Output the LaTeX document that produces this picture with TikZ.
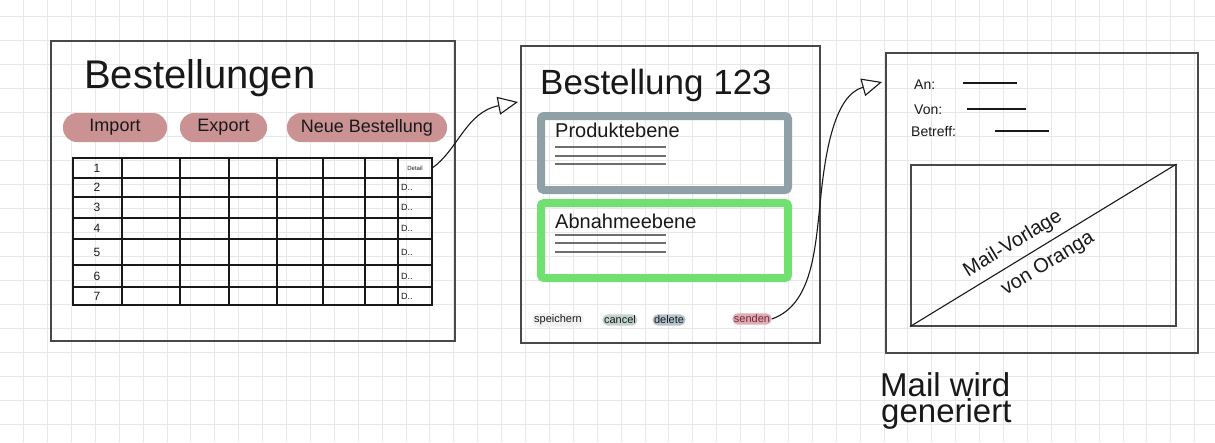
\documentclass[tikz,border=0pt]{standalone}
\usepackage{fontspec}
\setmainfont{Liberation Sans}
\usetikzlibrary{arrows.meta,calc}
\definecolor{gridc}{RGB}{232,232,232}
\definecolor{ink}{RGB}{72,72,72}
\definecolor{pen}{RGB}{25,25,25}
\definecolor{rose}{RGB}{203,146,148}
\definecolor{roseink}{RGB}{120,40,55}
\definecolor{roselight}{RGB}{222,172,180}
\definecolor{grayb}{RGB}{143,160,166}
\definecolor{greenb}{RGB}{112,224,112}
\definecolor{cancelc}{RGB}{196,212,204}
\definecolor{deletec}{RGB}{182,196,206}
\definecolor{lineg}{RGB}{110,110,110}
\tikzset{
  screen/.style={draw=ink, line width=1.6pt, anchor=north west, inner sep=0pt},
  btn/.style={fill=rose, rounded corners=14pt, minimum height=29pt, inner sep=0pt, text=pen, font=\fontsize{18}{20}\selectfont},
  tabline/.style={draw=pen, line width=1.2pt},
  rowlab/.style={text=pen, font=\fontsize{12}{13}\selectfont, inner sep=0pt},
  dcell/.style={text=pen, font=\fontsize{9}{10}\selectfont, inner sep=0pt, anchor=west},
  level/.style={line width=8pt, rounded corners=3pt, anchor=north west, inner sep=0pt},
  textline/.style={draw=lineg, line width=1.3pt},
  smallbtn/.style={rounded corners=5pt, inner sep=1.5pt, text=pen, font=\fontsize{11}{12}\selectfont},
  conn/.style={draw=pen, line width=1.1pt, -{Triangle[open, length=20pt, width=18pt, line width=1.1pt]}},
  hand/.style={text=pen, inner sep=0pt, anchor=base west},
  mailfield/.style={text=pen, inner sep=0pt, anchor=base west, font=\fontsize{14}{15}\selectfont},
  diagtext/.style={text=pen, rotate=31.3, inner sep=0pt, font=\fontsize{20}{22}\selectfont},
}
\begin{document}
\begin{tikzpicture}[x=1pt,y=-1pt]
\useasboundingbox (0,0) rectangle (1215,442);
\fill[white] (0,0) rectangle (1215,442);
% grid paper
\foreach \i in {-1,...,50} \draw[gridc, line width=0.8pt] ({23.5+23.9*\i},0) -- ({23.5+23.9*\i},442);
\foreach \j in {0,...,18} \draw[gridc, line width=0.8pt] (0,{16+24*\j}) -- (1215,{16+24*\j});

% ---------- screen 1 ----------
\node[screen, minimum width=404pt, minimum height=300pt] (box1) at (50,40) {};
\node[hand, font=\fontsize{40}{44}\selectfont] (t1) at (84,88) {Bestellungen};
\node[btn, minimum width=104pt] (imp) at (115,127.5) {Import};
\node[btn, minimum width=87pt] (exp) at (223.5,127.5) {Export};
\node[btn, minimum width=160pt] (neu) at (367,127.5) {Neue Bestellung};
% table
\draw[tabline] (73,158) rectangle (432,305);
\foreach \x in {122,180,229,277,323,365,398} \draw[tabline] (\x,158) -- (\x,305);
\foreach \y in {178,197,218,239,265,287} \draw[tabline] (73,\y) -- (432,\y);
\node[rowlab] (r1) at (97,168) {1};
\node[rowlab] (r2) at (97,187.5) {2};
\node[rowlab] (r3) at (97,207.5) {3};
\node[rowlab] (r4) at (97,228.5) {4};
\node[rowlab] (r5) at (97,252) {5};
\node[rowlab] (r6) at (97,276) {6};
\node[rowlab] (r7) at (97,296) {7};
\node[inner sep=0pt, minimum width=34pt, minimum height=20pt, font=\fontsize{6}{7}\selectfont, text=pen] (det) at (415,168) {Detail};
\node[dcell] (d2) at (401,187.5) {D..};
\node[dcell] (d3) at (401,207.5) {D..};
\node[dcell] (d4) at (401,228.5) {D..};
\node[dcell] (d5) at (401,252) {D..};
\node[dcell] (d6) at (401,276) {D..};
\node[dcell] (d7) at (401,296) {D..};

% ---------- screen 2 ----------
\node[screen, minimum width=299pt, minimum height=297pt] (box2) at (520,45) {};
\coordinate (in2) at (518,102);
\node[hand, font=\fontsize{35}{38}\selectfont] (t2) at (540,94) {Bestellung 123};
\node[level, draw=grayb, minimum width=247pt, minimum height=74pt] (prod) at (537,112) {};
\node[hand, font=\fontsize{20}{22}\selectfont] (prodt) at (555,137) {Produktebene};
\draw[textline] (555,147) -- (666,147);
\draw[textline] (555,156) -- (666,156);
\draw[textline] (555,164) -- (666,164);
\node[level, draw=greenb, minimum width=247pt, minimum height=75pt] (abn) at (537,199) {};
\node[hand, font=\fontsize{20}{22}\selectfont] (abnt) at (555,228) {Abnahmeebene};
\draw[textline] (555,235) -- (666,235);
\draw[textline] (555,243) -- (666,243);
\draw[textline] (555,252) -- (666,252);
\node[smallbtn, fill=gridc!60] (spe) at (558,320) {speichern};
\node[smallbtn, fill=cancelc] (can) at (620,320) {cancel};
\node[smallbtn, fill=deletec] (del) at (669,320) {delete};
\node[smallbtn, fill=roselight, text=roseink] (sen) at (752,319) {senden};

% ---------- screen 3 ----------
\node[screen, minimum width=312pt, minimum height=300pt] (box3) at (885,52) {};
\coordinate (in3) at (882,82);
\node[mailfield] (an) at (914,89) {An:};
\node[mailfield] (von) at (914,114) {Von:};
\node[mailfield] (bet) at (911,136) {Betreff:};
\draw[pen, line width=1.2pt] (963,83) -- (1017,83);
\draw[pen, line width=1.2pt] (967,109) -- (1026,109);
\draw[pen, line width=1.2pt] (995,131) -- (1049,131);
\node[screen, minimum width=265pt, minimum height=161pt] (tmpl) at (910,164) {};
\draw[pen, line width=1.1pt] (tmpl.south west) -- (tmpl.north east);
\node[diagtext] (mv) at (1013,244) {Mail-Vorlage};
\node[diagtext] (vo) at (1048,264) {von Oranga};
\node[hand, font=\fontsize{33}{36}\selectfont] (mw1) at (880,396) {Mail wird};
\node[hand, font=\fontsize{33}{36}\selectfont] (mw2) at (881,422) {generiert};

% ---------- connectors ----------
\draw[conn] (det.east) .. controls (458,150) and (466,112) .. (in2);
\draw[conn] (sen.east) .. controls (812,305) and (815,250) .. (820,205)
  .. controls (825,150) and (835,95) .. (in3);
\end{tikzpicture}
\end{document}
